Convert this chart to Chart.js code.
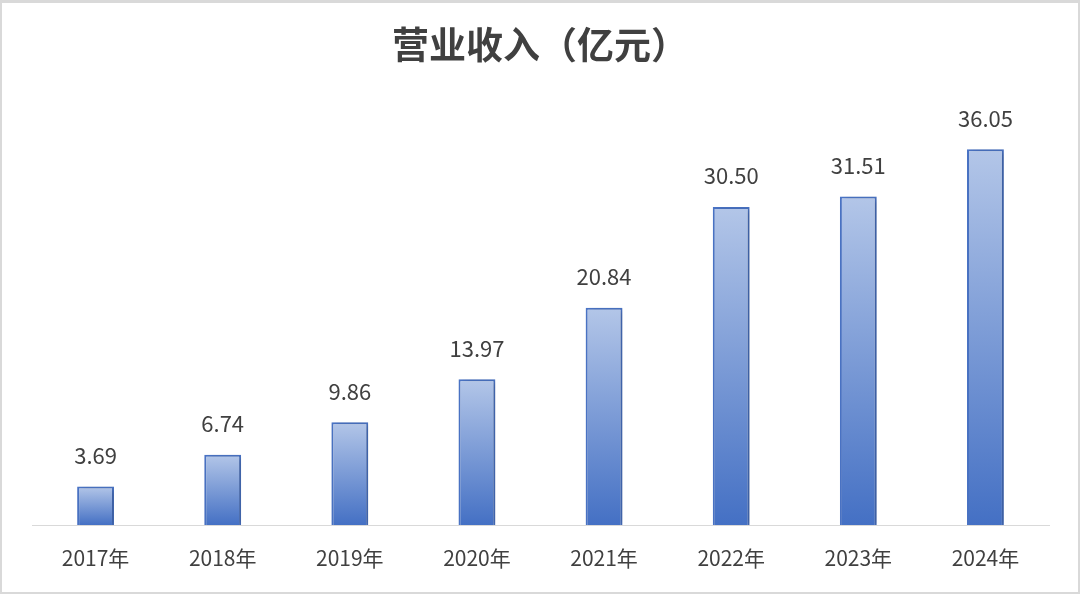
<!DOCTYPE html>
<html>
<head>
<meta charset="utf-8">
<script src="https://cdn.jsdelivr.net/npm/chart.js@4/dist/chart.umd.min.js"></script>
<style>
  html, body { margin: 0; padding: 0; background: #fff; }
  #wrap { position: relative; width: 1080px; height: 594px; box-sizing: border-box; border: 2px solid #d9d9d9; border-top-width: 3px; }
  canvas { position: absolute; left: -2px; top: -3px; }
</style>
</head>
<body>
<div id="wrap"><canvas id="myChart" width="1080" height="594"></canvas></div>
<script>
var title = '营业收入（亿元）';
var years = ['2017年', '2018年', '2019年', '2020年', '2021年', '2022年', '2023年', '2024年'];
var revenue = [3.69, 6.74, 9.86, 13.97, 20.84, 30.50, 31.51, 36.05];

var FONT = '"Noto Sans CJK SC", "Microsoft YaHei", sans-serif';
var TEXT = '#404040';

// per-bar gradient, light on top, darker at the base
function barFill(context) {
    var chart = context.chart;
    if (!chart.chartArea) return '#6f8fd3';
    var y = chart.scales.y;
    var top = y.getPixelForValue(context.raw);
    var bottom = y.getPixelForValue(0);
    var g = chart.ctx.createLinearGradient(0, top, 0, bottom);
    g.addColorStop(0, '#b3c6e8');
    g.addColorStop(1, '#4470c4');
    return g;
}

var extras = {
    id: 'extras',
    beforeDatasetsDraw: function(chart) {
        var ctx = chart.ctx;
        ctx.save();
        ctx.shadowColor = 'rgba(0,0,0,0.22)';
        ctx.shadowBlur = 6;
        ctx.shadowOffsetX = 3;
        ctx.shadowOffsetY = 1;
    },
    afterDatasetsDraw: function(chart) {
        var ctx = chart.ctx;
        ctx.restore();
        ctx.save();
        ctx.font = '22px ' + FONT;
        ctx.fillStyle = TEXT;
        ctx.textAlign = 'center';
        ctx.textBaseline = 'middle';
        chart.getDatasetMeta(0).data.forEach(function(bar, i) {
            ctx.fillText(revenue[i].toFixed(2), bar.x, bar.y - 31);
        });
        // title
        ctx.font = 'bold 37px ' + FONT;
        ctx.fillText(title, chart.width / 2, 45);
        ctx.restore();
    }
};

var ctx = document.getElementById('myChart').getContext('2d');
var myChart = new Chart(ctx, {
    type: 'bar',
    data: {
        labels: years,
        datasets: [{
            label: title,
            data: revenue,
            backgroundColor: barFill,
            borderColor: '#4a74c6',
            borderWidth: 2,
            barPercentage: 0.58,
            categoryPercentage: 0.5
        }]
    },
    options: {
        responsive: false,
        animation: false,
        devicePixelRatio: 1,
        layout: { padding: { top: 108, left: 32, right: 31, bottom: 0 } },
        plugins: {
            legend: { display: false },
            tooltip: { enabled: false },
            title: { display: false }
        },
        scales: {
            x: {
                grid: { display: false },
                border: { display: true, color: '#d9d9d9', width: 1 },
                ticks: { color: TEXT, font: { family: FONT, size: 21 }, padding: 12 },
                afterFit: function(scale) { scale.height = 69; }
            },
            y: {
                display: false,
                min: 0,
                max: 40
            }
        }
    },
    plugins: [extras]
});
</script>
</body>
</html>
